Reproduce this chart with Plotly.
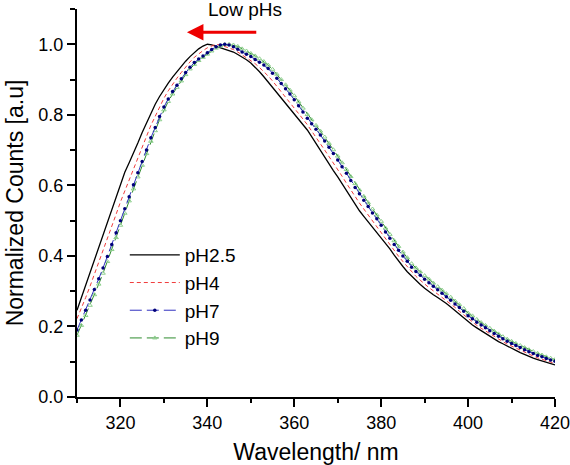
import plotly.graph_objects as go

wavelength = list(range(310, 421))

ph25 = [0.246, 0.282, 0.318, 0.354, 0.390, 0.426, 0.462, 0.498, 0.534, 0.570,
        0.606, 0.637, 0.664, 0.690, 0.720, 0.750, 0.778, 0.805, 0.830, 0.852,
        0.872, 0.890, 0.907, 0.923, 0.938, 0.952, 0.965, 0.977, 0.987, 0.995,
        1.000, 0.998, 0.994, 0.991, 0.988, 0.984, 0.978, 0.971, 0.964, 0.956,
        0.947, 0.935, 0.922, 0.908, 0.893, 0.878, 0.863, 0.847, 0.831, 0.815,
        0.800, 0.786, 0.772, 0.757, 0.738, 0.718, 0.698, 0.679, 0.660, 0.642,
        0.624, 0.604, 0.584, 0.564, 0.545, 0.528, 0.512, 0.497, 0.482, 0.466,
        0.450, 0.436, 0.420, 0.402, 0.385, 0.370, 0.355, 0.342, 0.330, 0.319,
        0.308, 0.298, 0.290, 0.282, 0.274, 0.265, 0.255, 0.245, 0.234, 0.224,
        0.213, 0.204, 0.196, 0.188, 0.180, 0.172, 0.164, 0.157, 0.151, 0.144,
        0.138, 0.132, 0.126, 0.120, 0.114, 0.110, 0.106, 0.102, 0.098, 0.094,
        0.091]

ph4 = [0.222, 0.250, 0.282, 0.314, 0.347, 0.380, 0.414, 0.448, 0.483, 0.518,
       0.553, 0.585, 0.616, 0.646, 0.678, 0.709, 0.739, 0.770, 0.797, 0.823,
       0.847, 0.868, 0.887, 0.904, 0.920, 0.936, 0.950, 0.963, 0.973, 0.982,
       0.990, 0.996, 1.000, 0.998, 0.994, 0.990, 0.985, 0.978, 0.970, 0.963,
       0.955, 0.945, 0.934, 0.923, 0.910, 0.896, 0.881, 0.866, 0.850, 0.835,
       0.819, 0.804, 0.788, 0.772, 0.755, 0.736, 0.718, 0.700, 0.682, 0.664,
       0.646, 0.626, 0.606, 0.586, 0.567, 0.550, 0.533, 0.516, 0.500, 0.484,
       0.467, 0.450, 0.434, 0.416, 0.399, 0.384, 0.369, 0.354, 0.342, 0.331,
       0.320, 0.310, 0.301, 0.292, 0.283, 0.274, 0.264, 0.254, 0.243, 0.233,
       0.221, 0.212, 0.203, 0.195, 0.187, 0.179, 0.171, 0.164, 0.157, 0.150,
       0.144, 0.138, 0.132, 0.126, 0.120, 0.116, 0.111, 0.107, 0.103, 0.099,
       0.095]

ph7 = [0.190, 0.218, 0.246, 0.275, 0.305, 0.335, 0.366, 0.398, 0.432, 0.466,
       0.500, 0.534, 0.568, 0.602, 0.636, 0.668, 0.700, 0.735, 0.764, 0.795,
       0.822, 0.845, 0.866, 0.884, 0.902, 0.920, 0.935, 0.948, 0.958, 0.967,
       0.976, 0.985, 0.993, 0.998, 1.000, 0.998, 0.993, 0.986, 0.978, 0.972,
       0.965, 0.957, 0.949, 0.941, 0.931, 0.918, 0.904, 0.889, 0.874, 0.859,
       0.843, 0.826, 0.808, 0.790, 0.775, 0.759, 0.743, 0.726, 0.708, 0.690,
       0.672, 0.653, 0.634, 0.614, 0.594, 0.576, 0.558, 0.540, 0.522, 0.505,
       0.487, 0.468, 0.450, 0.432, 0.416, 0.400, 0.385, 0.368, 0.356, 0.345,
       0.334, 0.324, 0.314, 0.304, 0.294, 0.284, 0.274, 0.264, 0.254, 0.243,
       0.230, 0.222, 0.212, 0.204, 0.196, 0.188, 0.180, 0.172, 0.165, 0.158,
       0.152, 0.146, 0.140, 0.134, 0.128, 0.123, 0.118, 0.114, 0.109, 0.105,
       0.101]

ph9 = [0.175, 0.203, 0.231, 0.260, 0.290, 0.320, 0.351, 0.384, 0.418, 0.452,
       0.487, 0.521, 0.556, 0.590, 0.624, 0.657, 0.690, 0.725, 0.755, 0.786,
       0.814, 0.838, 0.859, 0.878, 0.896, 0.914, 0.930, 0.943, 0.954, 0.963,
       0.972, 0.981, 0.989, 0.995, 0.999, 1.000, 0.998, 0.994, 0.987, 0.981,
       0.974, 0.967, 0.959, 0.951, 0.941, 0.929, 0.915, 0.900, 0.885, 0.870,
       0.854, 0.837, 0.819, 0.801, 0.786, 0.770, 0.754, 0.737, 0.719, 0.701,
       0.683, 0.664, 0.645, 0.625, 0.605, 0.587, 0.569, 0.551, 0.533, 0.516,
       0.498, 0.479, 0.461, 0.443, 0.427, 0.411, 0.395, 0.378, 0.366, 0.355,
       0.344, 0.334, 0.323, 0.313, 0.303, 0.293, 0.283, 0.272, 0.262, 0.251,
       0.238, 0.230, 0.220, 0.211, 0.203, 0.195, 0.187, 0.179, 0.171, 0.164,
       0.158, 0.152, 0.146, 0.140, 0.134, 0.129, 0.124, 0.119, 0.114, 0.110,
       0.106]

x_ticks = [320, 340, 360, 380, 400, 420]
y_ticks = [0.0, 0.2, 0.4, 0.6, 0.8, 1.0]
series_names = ["pH2.5", "pH4", "pH7", "pH9"]

fig = go.Figure()
fig.add_trace(go.Scatter(x=wavelength, y=ph25, name=series_names[0], mode="lines",
                         legendrank=1,
                         line=dict(color="black", width=1.3)))
fig.add_trace(go.Scatter(x=wavelength, y=ph4, name=series_names[1], mode="lines",
                         legendrank=2,
                         line=dict(color="#f03c3c", width=1, dash="4px,3px")))
fig.add_trace(go.Scatter(x=wavelength, y=ph9, name=series_names[3], mode="lines+markers",
                         legendrank=4,
                         line=dict(color="#2e8b2e", width=1, dash="12px,5px"),
                         marker=dict(symbol="triangle-up-open", size=4, color="#8ccf8c",
                                     line=dict(width=1, color="#8ccf8c"))))
fig.add_trace(go.Scatter(x=wavelength, y=ph7, name=series_names[2], mode="lines+markers",
                         legendrank=3,
                         line=dict(color="#3030c0", width=1, dash="12px,5px"),
                         marker=dict(symbol="circle", size=3.5, color="#00007a")))

fig.add_annotation(x=335.3, y=1.034, ax=351.6, ay=1.034, xref="x", yref="y",
                   axref="x", ayref="y", text="", showarrow=True,
                   arrowhead=2, arrowsize=1.1, arrowwidth=3, arrowcolor="#ee0000")
fig.add_annotation(x=348.6, y=1.0, xref="x", yref="paper", yanchor="middle",
                   text="Low pHs", showarrow=False,
                   font=dict(size=19, color="black"))

fig.update_layout(
    width=570, height=465,
    margin=dict(l=77, r=15, t=9, b=68, autoexpand=False),
    paper_bgcolor="white", plot_bgcolor="white",
    font=dict(family="Liberation Sans, Arial, sans-serif", color="black"),
    showlegend=True,
    legend=dict(x=0.1, y=0.415, xanchor="left", yanchor="top",
                traceorder="normal", tracegroupgap=0,
                font=dict(size=19), bgcolor="rgba(0,0,0,0)", itemwidth=50),
)
fig.update_xaxes(
    range=[310, 420], tickvals=x_ticks, ticktext=[str(v) for v in x_ticks],
    automargin=False, ticklabeloverflow="allow",
    showgrid=False, zeroline=False, showline=True, linecolor="black", linewidth=2,
    ticks="outside", ticklen=8, tickwidth=2, tickcolor="black",
    tickfont=dict(size=18),
    minor=dict(dtick=10, tick0=310, ticks="outside", ticklen=4, tickwidth=2, tickcolor="black"),
    title=dict(text="Wavelength/ nm", font=dict(size=23), standoff=13),
)
fig.update_yaxes(
    range=[0, 1.1], tickvals=y_ticks, ticktext=["%.1f" % v for v in y_ticks],
    automargin=False,
    showgrid=False, zeroline=False, showline=True, linecolor="black", linewidth=2,
    ticks="outside", ticklen=8, tickwidth=2, tickcolor="black",
    tickfont=dict(size=18),
    minor=dict(dtick=0.1, tick0=0, ticks="outside", ticklen=5, tickwidth=2, tickcolor="black"),
    title=dict(text="Normalized Counts [a.u]", font=dict(size=23), standoff=8),
)

fig.write_html("out.html", config={"displayModeBar": False},
               post_script="document.body.style.margin='0';")
